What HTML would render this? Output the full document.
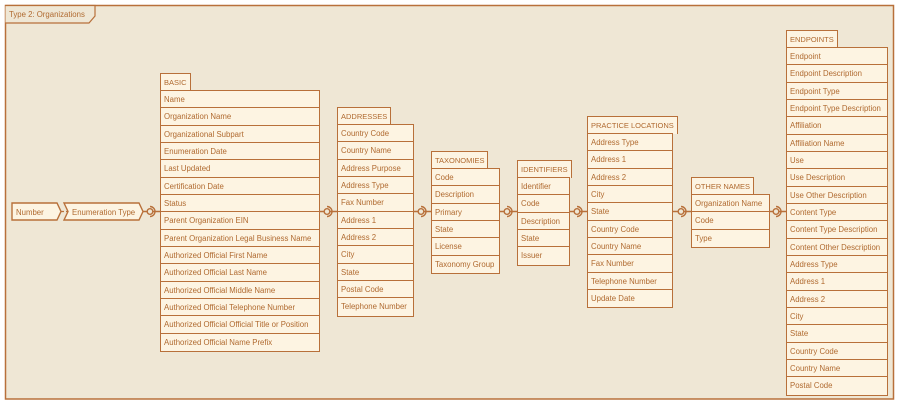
<!DOCTYPE html>
<html><head><meta charset="utf-8"><style>
*{box-sizing:border-box;margin:0;padding:0}
body{width:899px;height:405px;background:#fff;position:relative;overflow:hidden;font-family:"Liberation Sans",sans-serif;font-size:7.8px;color:#b06a30}
svg{position:absolute;left:0;top:0}
.tab{position:absolute;height:18px;border:1.6px solid #b8703a;border-bottom:none;background:#fdf4e2;padding:0 3px;line-height:17px;font-size:7.5px;white-space:nowrap}
.t{position:absolute;border:1.6px solid #b8703a;background:#fdf4e2}
.t div{height:17.33px;line-height:17px;padding-left:3px;border-bottom:1.5px solid #b8703a;white-space:nowrap;overflow:hidden}
.t div:last-child{border-bottom:none}
</style></head><body>
<svg width="899" height="405">
<rect x="0" y="0" width="899" height="405" fill="#fff"/>
<rect x="5.5" y="5.5" width="888" height="393.5" fill="#efe7d5" stroke="#b8703a" stroke-width="1.5"/>
<path d="M5.5 5.5 H95 V16 L89 23 H5.5" fill="#efe7d5" stroke="#b8703a" stroke-width="1.2"/>
<text x="9" y="17" font-size="7.8" fill="#b06a30" font-family="Liberation Sans">Type 2: Organizations</text>
<line x1="61" y1="211.5" x2="68" y2="211.5" stroke="#b8703a" stroke-width="1.2" stroke-dasharray="3,2"/>
<line x1="143" y1="211.5" x2="787" y2="211.5" stroke="#b8703a" stroke-width="1.4"/>
<polygon points="12,203 57,203 61,211.5 57,220 12,220" fill="#fdf4e2" stroke="#b8703a" stroke-width="1.4"/>
<text x="16" y="215" font-size="7.8" fill="#b06a30" font-family="Liberation Sans">Number</text>
<polygon points="64,203 139,203 143,211.5 139,220 64,220 68,211.5" fill="#fdf4e2" stroke="#b8703a" stroke-width="1.4"/>
<text x="72" y="215" font-size="7.8" fill="#b06a30" font-family="Liberation Sans">Enumeration Type</text>
<g fill="#efe7d5" stroke="#b8703a" stroke-width="1.4">
<circle cx="150" cy="211.5" r="2.8"/><path d="M150 206.5 A5 5 0 0 1 150 216.5" fill="none"/>
<circle cx="327" cy="211.5" r="2.8"/><path d="M327 206.5 A5 5 0 0 1 327 216.5" fill="none"/>
<circle cx="421" cy="211.5" r="2.8"/><path d="M421 206.5 A5 5 0 0 1 421 216.5" fill="none"/>
<circle cx="507" cy="211.5" r="2.8"/><path d="M507 206.5 A5 5 0 0 1 507 216.5" fill="none"/>
<circle cx="577" cy="211.5" r="2.8"/><path d="M577 206.5 A5 5 0 0 1 577 216.5" fill="none"/>
<circle cx="681" cy="211.5" r="2.8"/><path d="M681 206.5 A5 5 0 0 1 681 216.5" fill="none"/>
<circle cx="776" cy="211.5" r="2.8"/><path d="M776 206.5 A5 5 0 0 1 776 216.5" fill="none"/>
</g>
</svg>

<div class="tab" style="left:160px;top:73px">BASIC</div>
<div class="t" style="left:160px;top:90px;width:160px"><div>Name</div><div>Organization Name</div><div>Organizational Subpart</div><div>Enumeration Date</div><div>Last Updated</div><div>Certification Date</div><div>Status</div><div>Parent Organization EIN</div><div>Parent Organization Legal Business Name</div><div>Authorized Official First Name</div><div>Authorized Official Last Name</div><div>Authorized Official Middle Name</div><div>Authorized Official Telephone Number</div><div>Authorized Official Official Title or Position</div><div>Authorized Official Name Prefix</div></div>

<div class="tab" style="left:337px;top:107px">ADDRESSES</div>
<div class="t" style="left:337px;top:124px;width:77px"><div>Country Code</div><div>Country Name</div><div>Address Purpose</div><div>Address Type</div><div>Fax Number</div><div>Address 1</div><div>Address 2</div><div>City</div><div>State</div><div>Postal Code</div><div>Telephone Number</div></div>

<div class="tab" style="left:431px;top:151px">TAXONOMIES</div>
<div class="t" style="left:431px;top:168px;width:69px"><div>Code</div><div>Description</div><div>Primary</div><div>State</div><div>License</div><div>Taxonomy Group</div></div>

<div class="tab" style="left:517px;top:160px">IDENTIFIERS</div>
<div class="t" style="left:517px;top:177px;width:53px"><div>Identifier</div><div>Code</div><div>Description</div><div>State</div><div>Issuer</div></div>

<div class="tab" style="left:587px;top:116px">PRACTICE LOCATIONS</div>
<div class="t" style="left:587px;top:133px;width:86px"><div>Address Type</div><div>Address 1</div><div>Address 2</div><div>City</div><div>State</div><div>Country Code</div><div>Country Name</div><div>Fax Number</div><div>Telephone Number</div><div>Update Date</div></div>

<div class="tab" style="left:691px;top:177px">OTHER NAMES</div>
<div class="t" style="left:691px;top:194px;width:79px"><div>Organization Name</div><div>Code</div><div>Type</div></div>

<div class="tab" style="left:786px;top:30px">ENDPOINTS</div>
<div class="t" style="left:786px;top:47px;width:102px"><div>Endpoint</div><div>Endpoint Description</div><div>Endpoint Type</div><div>Endpoint Type Description</div><div>Affiliation</div><div>Affiliation Name</div><div>Use</div><div>Use Description</div><div>Use Other Description</div><div>Content Type</div><div>Content Type Description</div><div>Content Other Description</div><div>Address Type</div><div>Address 1</div><div>Address 2</div><div>City</div><div>State</div><div>Country Code</div><div>Country Name</div><div>Postal Code</div></div>
</body></html>
